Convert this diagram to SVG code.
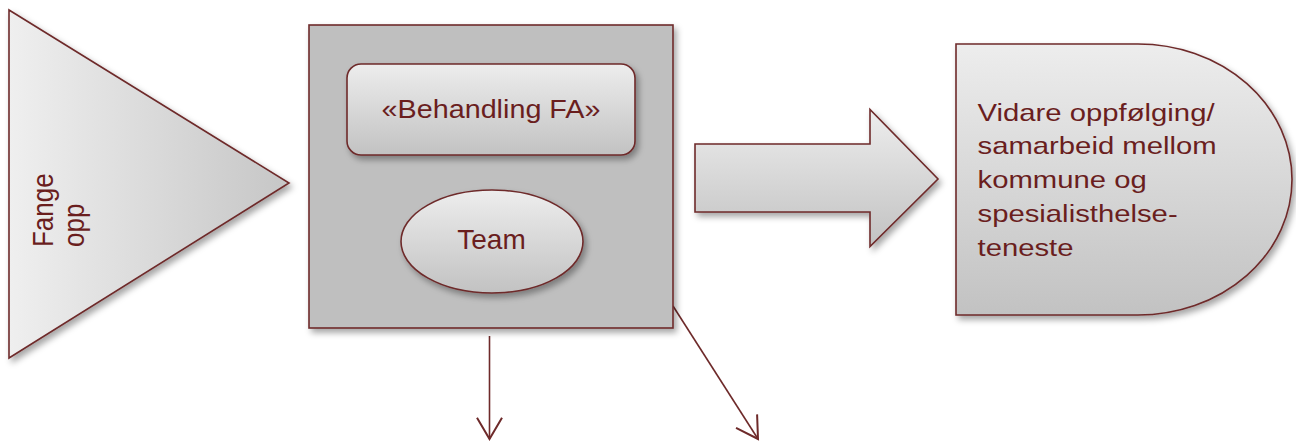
<svg xmlns="http://www.w3.org/2000/svg" width="1296" height="442" viewBox="0 0 1296 442">
<style>
.shape{stroke:#6e2a2a;stroke-width:1.6;filter:url(#sh)}
.lbl{font-family:"Liberation Sans",Arial,sans-serif;fill:#6a1e1e}
.conn{stroke:#6e2a2a;stroke-width:1.6;fill:none}
</style>
<defs>
<linearGradient id="gv" x1="0" y1="0" x2="0" y2="1">
<stop offset="0" stop-color="#ededed"/>
<stop offset="1" stop-color="#c2c2c2"/>
</linearGradient>
<linearGradient id="gh" x1="0" y1="0" x2="1" y2="0">
<stop offset="0" stop-color="#efefef"/>
<stop offset="1" stop-color="#c6c6c6"/>
</linearGradient>
<filter id="sh" x="-10%" y="-10%" width="125%" height="125%">
<feDropShadow dx="3" dy="4" stdDeviation="3" flood-color="#000" flood-opacity="0.35"/>
</filter>
<marker id="open" markerUnits="userSpaceOnUse" markerWidth="30" markerHeight="30" viewBox="-20 -12 24 24" refX="0" refY="0" orient="auto">
<path d="M-17,-10 L0,0 L-17,10" fill="none" stroke="#6e2a2a" stroke-width="1.6"/>
</marker>
</defs>

<g id="connectors">
<line class="conn" x1="489.5" y1="336" x2="489.5" y2="439" marker-end="url(#open)"/>
<line class="conn" x1="673" y1="306" x2="758" y2="439" marker-end="url(#open)"/>
</g>

<g id="fange-opp">
<polygon class="shape" points="9,10 289,183 9,358" fill="url(#gh)"/>
<g transform="translate(53,247) scale(1.15,1) rotate(-90)">
<text class="lbl" x="0" y="0" font-size="26">Fange</text>
<text class="lbl" x="0" y="27" font-size="26">opp</text>
</g>
</g>

<g id="container">
<rect class="shape" x="309" y="25" width="364" height="303" fill="#bfbfbf"/>
</g>

<g id="behandling">
<rect class="shape" x="347" y="64" width="288" height="91" rx="14" fill="url(#gv)"/>
<text class="lbl" font-size="25" text-anchor="middle" transform="matrix(1.15 0 0 1 491 117.5)">«Behandling FA»</text>
</g>

<g id="team">
<ellipse class="shape" cx="492" cy="241.5" rx="91" ry="51.5" fill="url(#gv)"/>
<text class="lbl" x="491.5" y="249" font-size="28" text-anchor="middle">Team</text>
</g>

<g id="big-arrow">
<polygon class="shape" points="695,144 870,144 870,109.5 938,179 870,246.5 870,212 695,212" fill="url(#gv)"/>
</g>

<g id="vidare">
<path class="shape" d="M956,44 H1138 A154,135.5 0 0 1 1138,315 H956 Z" fill="url(#gv)"/>
<g transform="matrix(1.22 0 0 1 977.5 0)" class="lbl" font-size="24">
<text x="0" y="120.7">Vidare oppfølging/</text>
<text x="0" y="154.5">samarbeid mellom</text>
<text x="0" y="188.5">kommune og</text>
<text x="0" y="222.5">spesialisthelse-</text>
<text x="0" y="256">teneste</text>
</g>
</g>
</svg>
